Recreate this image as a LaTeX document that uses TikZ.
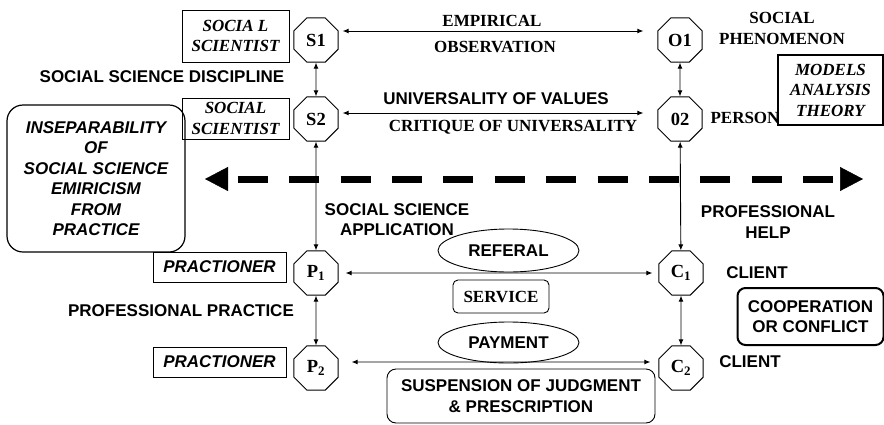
\documentclass[tikz,border=0pt]{standalone}
\usepackage{fontspec}
\setmainfont{Liberation Serif}
\setsansfont{Liberation Sans}
\usetikzlibrary{arrows.meta,shapes.geometric}

\begin{document}
\begin{tikzpicture}[x=1pt,y=-1pt,line width=0.9pt,
  oct/.style={draw,regular polygon,regular polygon sides=8,minimum size=48pt,inner sep=0pt,font=\fontsize{18.5}{20}\selectfont\bfseries},
  sanstxt/.style={font=\fontsize{17}{20.5}\selectfont\sffamily\bfseries,align=center,inner sep=0pt},
  sansit/.style={font=\fontsize{17}{20.5}\selectfont\sffamily\bfseries\itshape,align=center,inner sep=0pt},
  seriftxt/.style={font=\fontsize{17}{20.5}\selectfont\bfseries,align=center,inner sep=0pt},
  serifit/.style={font=\fontsize{17}{20.5}\selectfont\bfseries\itshape,align=center,inner sep=0pt},
  link/.style={{Latex[length=6pt,width=5pt]}-{Latex[length=6pt,width=5pt]}},
  bigarrow/.style={line width=7pt,dash pattern=on 30pt off 21.4pt,dash phase=41.4pt,
    {Triangle[length=23pt,width=24pt,line width=0.5pt]}-{Triangle[length=23pt,width=24pt,line width=0.5pt]}}]

\useasboundingbox (0,0) rectangle (884,424);

% Octagons
\node[oct] (s1) at (316,40) {S1};
\node[oct] (s2) at (316,119) {S2};
\node[oct] (p1) at (316,273) {P\textsubscript{1}};
\node[oct] (p2) at (316,368) {P\textsubscript{2}};
\node[oct] (o1) at (680,40) {O1};
\node[oct] (o2) at (680,119) {02};
\node[oct] (c1) at (681,273) {C\textsubscript{1}};
\node[oct] (c2) at (681,368) {C\textsubscript{2}};

% Vertical links
\draw[link] (s1) -- (s2);
\draw[link] (s2) -- (p1);
\draw[link] (p1) -- (p2);
\draw[link] (o1) -- (o2);
\draw[link] (o2) -- (c1);
\draw[link] (c1) -- (c2);

% Horizontal links
\draw[link,shorten <=4pt,shorten >=14pt] ([yshift=9pt]s1.east) -- ([yshift=9pt]o1.west);
\draw[link,shorten <=4pt,shorten >=14pt] ([yshift=6pt]s2.east) -- ([yshift=6pt]o2.west);
\draw[link,shorten <=7pt,shorten >=6pt] (p1.east) -- (c1.west);
\draw[link,shorten <=13pt,shorten >=8pt] ([yshift=6pt]p2.east) -- ([yshift=6pt]c2.west);

% Boxes on the left
\node[draw,serifit,minimum width=107pt,minimum height=52pt] (sci1) at (235.5,36) {SOCIA L\\SCIENTIST};
\node[draw,serifit,minimum width=107pt,minimum height=41pt] (sci2) at (235.5,118.5) {SOCIAL\\SCIENTIST};
\node[draw,sansit,minimum width=133pt,minimum height=30pt] (prac1) at (219.5,267) {PRACTIONER};
\node[draw,sansit,minimum width=133pt,minimum height=30pt] (prac2) at (219.5,362) {PRACTIONER};
\node[draw,sansit,line width=1.2pt,rounded corners=16pt,minimum width=178pt,minimum height=147pt] (insep) at (96,178.5)
  {INSEPARABILITY\\OF\\SOCIAL SCIENCE\\EMIRICISM\\FROM\\PRACTICE};

% Boxes on the right
\node[draw,serifit,line width=2pt,minimum width=105pt,minimum height=70pt] (models) at (830.5,90) {MODELS\\ANALYSIS\\THEORY};
\node[draw,sanstxt,line width=2pt,rounded corners=8pt,minimum width=146pt,minimum height=57pt] (coop) at (810.5,316.5) {COOPERATION\\OR CONFLICT};

% Middle labels
\node[draw,ellipse,sanstxt,minimum width=141pt,minimum height=43pt] (referal) at (508.5,250.5) {REFERAL};
\node[draw,seriftxt,rounded corners=5pt,minimum width=96pt,minimum height=33pt] (service) at (501,296.5) {SERVICE};
\node[draw,ellipse,sanstxt,minimum width=141pt,minimum height=41pt] (payment) at (508.5,342.5) {PAYMENT};
\node[draw,sanstxt,rounded corners=9pt,minimum width=268pt,minimum height=54pt] (susp) at (521,396) {SUSPENSION OF JUDGMENT\\\& PRESCRIPTION};

% Text labels
\node[seriftxt] (emp) at (492,21) {EMPIRICAL};
\node[seriftxt] (obs) at (495,47) {OBSERVATION};
\node[sanstxt] (univ) at (496,99) {UNIVERSALITY OF VALUES};
\node[seriftxt] (crit) at (513,127) {CRITIQUE OF UNIVERSALITY};
\node[seriftxt] (phen) at (782,28.5) {SOCIAL\\PHENOMENON};
\node[seriftxt] (person) at (745,118) {PERSON};
\node[sanstxt] (disc) at (162,77) {SOCIAL SCIENCE DISCIPLINE};
\node[sanstxt] (app) at (397,219.5) {SOCIAL SCIENCE\\APPLICATION};
\node[sanstxt] (help) at (768,222) {PROFESSIONAL\\HELP};
\node[sanstxt] (prof) at (181,311) {PROFESSIONAL PRACTICE};
\node[sanstxt] (client1) at (757,273) {CLIENT};
\node[sanstxt] (client2) at (750,362) {CLIENT};

% Dashed double arrow
\coordinate (dl) at (205,179);
\coordinate (dr) at (863,179);
\draw[bigarrow] (dl) -- (dr);

\end{tikzpicture}
\end{document}
